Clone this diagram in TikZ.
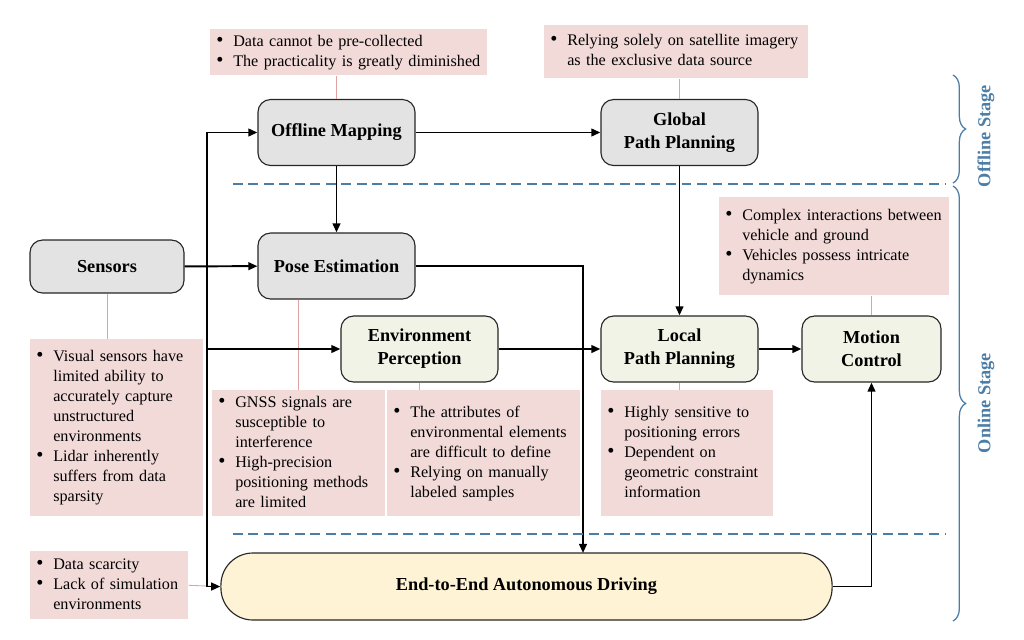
\documentclass[tikz,border=0pt]{standalone}
\usepackage{fontspec}
\setmainfont{Liberation Serif}
\usetikzlibrary{arrows.meta,decorations.pathreplacing}
\definecolor{noteColor}{HTML}{F2DAD8}
\definecolor{offColor}{HTML}{E3E3E3}
\definecolor{onColor}{HTML}{F0F3E5}
\definecolor{e2eColor}{HTML}{FFF3D6}
\definecolor{stageColor}{HTML}{4C7DA6}
\definecolor{tieColor}{HTML}{E0A3A3}
\newenvironment{pts}{\begin{tabular}{@{}l@{\hspace{7pt}}l@{}}}{\end{tabular}}
\newcommand{\pt}{{\fontsize{14.5}{14.2}\selectfont\textbullet}}

\begin{document}
\begin{tikzpicture}[
    x=0.025cm, y=-0.025cm,
    block/.style={draw=black!85, line width=0.8pt, rounded corners=9pt, minimum width=3.925cm, minimum height=1.65cm, align=center, font=\fontsize{13}{16.3}\selectfont\bfseries},
    offline/.style={block, fill=offColor},
    online/.style={block, fill=onColor},
    note/.style={fill=noteColor, anchor=north west, inner xsep=0.15cm, inner ysep=0pt, text width=#1, align=left, font=\fontsize{11.5}{14.2}\selectfont},
    tie/.style={draw=tieColor, line width=0.6pt},
    arr/.style={draw, line width=1.4pt, -{Triangle[length=6.5pt,width=5.5pt]}},
    sep/.style={draw=stageColor, line width=1.4pt, dash pattern=on 7pt off 4pt},
    stagebrace/.style={draw=stageColor, line width=0.9pt, decorate, decoration={brace, amplitude=9pt}},
    stage/.style={rotate=90, text=stageColor, font=\fontsize{13}{15}\selectfont\bfseries}
  ]
  \useasboundingbox (0,0) rectangle (1024,639);

  % Blocks
  \node[offline, minimum width=3.85cm, minimum height=1.325cm] (Sensors) at (107,266.5) {Sensors};
  \node[offline] (OM) at (336.5,132.5) {Offline Mapping};
  \node[offline] (Pose) at (336.5,266) {Pose Estimation};
  \node[offline] (GPP) at (679.5,132.5) {Global\\Path Planning};
  \node[online] (Env) at (419.5,349) {Environment\\Perception};
  \node[online] (LPP) at (679.5,349) {Local\\Path Planning};
  \node[online, minimum width=3.475cm] (Motion) at (871.5,349) {Motion\\Control};
  \node[block, fill=e2eColor, minimum width=15.275cm, minimum height=1.675cm, rounded corners=0.8cm] (E2E) at (526.5,586.5) {End-to-End Autonomous Driving};

  % Limitations
  \node[note=6.625cm, minimum height=1.15cm] (nOM) at (210,29) {\begin{pts}
    \pt & Data cannot be pre-collected\\
    \pt & The practicality is greatly diminished
  \end{pts}};
  \node[note=6.3cm, minimum height=1.325cm] (nGPP) at (544,25) {\begin{pts}
    \pt & Relying solely on satellite imagery\\
    & as the exclusive data source
  \end{pts}};
  \node[note=5.45cm, minimum height=2.45cm] (nMC) at (719,197) {\begin{pts}
    \pt & Complex interactions between\\
    & vehicle and ground\\
    \pt & Vehicles possess intricate\\
    & dynamics
  \end{pts}};
  \node[note=4.025cm, minimum height=4.425cm] (nS) at (30,339) {\begin{pts}
    \pt & Visual sensors have\\
    & limited ability to\\
    & accurately capture\\
    & unstructured\\
    & environments\\
    \pt & Lidar inherently\\
    & suffers from data\\
    & sparsity
  \end{pts}};
  \node[note=4.025cm, minimum height=3.15cm] (nPose) at (212,390) {\begin{pts}
    \pt & GNSS signals are\\
    & susceptible to\\
    & interference\\
    \pt & High-precision\\
    & positioning methods\\
    & are limited
  \end{pts}};
  \node[note=4.525cm, minimum height=3.15cm] (nEnv) at (387,390) {\begin{pts}
    \pt & The attributes of\\
    & environmental elements\\
    & are difficult to define\\
    \pt & Relying on manually\\
    & labeled samples
  \end{pts}};
  \node[note=4.0cm, minimum height=3.15cm] (nLPP) at (601,390) {\begin{pts}
    \pt & Highly sensitive to\\
    & positioning errors\\
    \pt & Dependent on\\
    & geometric constraint\\
    & information
  \end{pts}};
  \node[note=3.65cm, minimum height=1.7cm] (nE2E) at (30,551) {\begin{pts}
    \pt & Data scarcity\\
    \pt & Lack of simulation\\
    & environments
  \end{pts}};

  \draw[tie] (OM.north) -- (OM.north |- nOM.south);
  \draw[tie] (GPP.north) -- (GPP.north |- nGPP.south);
  \draw[tie] (Sensors.south) -- (Sensors.south |- nS.north);
  \draw[tie] (nPose.north) -- (nPose.north |- Pose.south);
  \draw[tie] (Env.south) -- (Env.south |- nEnv.north);
  \draw[tie] (LPP.south) -- (LPP.south |- nLPP.north);
  \draw[tie] (Motion.north) -- (Motion.north |- nMC.south);
  \draw[tie] (nE2E.east) -- (E2E.west);

  % Flow
  \coordinate (fork) at (207,266);
  \coordinate (drop) at (583,553);
  \draw[arr] (Sensors) -- (Pose);
  \draw[arr] (fork) |- (OM.west);
  \draw[arr] (fork) |- (Env.west);
  \draw[arr] (fork) |- (E2E.west);
  \draw[arr] (OM) -- (GPP);
  \draw[arr] (OM) -- (Pose);
  \draw[arr] (GPP) -- (LPP);
  \draw[arr] (Env) -- (LPP);
  \draw[arr] (LPP) -- (Motion);
  \draw[arr] (Pose.east) -| (drop);
  \draw[arr] (E2E.east) -| (Motion.south);

  % Stages
  \draw[sep] (233,184) -- (945,184);
  \draw[sep] (233,534) -- (945,534);
  \draw[stagebrace] (953,75) -- (953,183);
  \draw[stagebrace] (953,186) -- (953,621);
  \node[stage] (offT) at (986,136) {Offline Stage};
  \node[stage] (onT) at (986,403) {Online Stage};
\end{tikzpicture}
\end{document}
